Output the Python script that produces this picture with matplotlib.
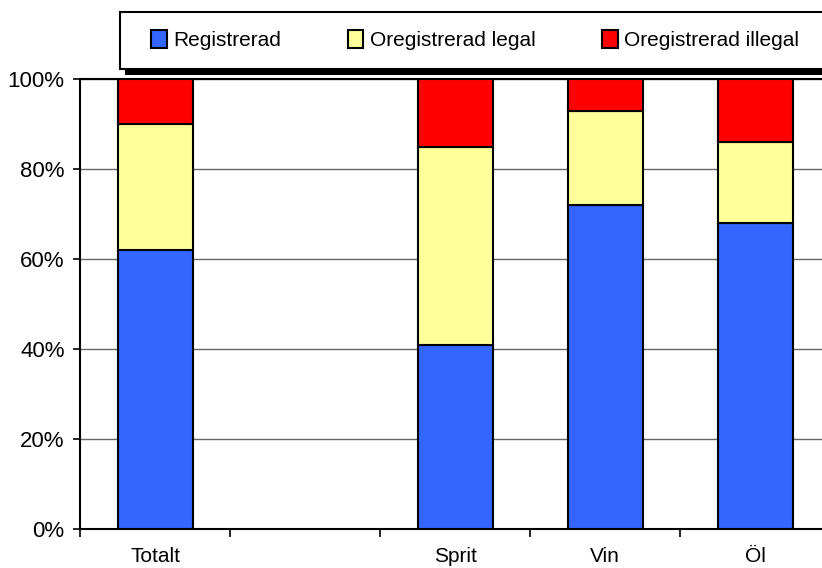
import numpy as np
import matplotlib.pyplot as plt
from matplotlib.patches import Rectangle

plt.rcParams['font.family'] = ['Liberation Sans', 'DejaVu Sans']

# andel av total alkoholkonsumtion (%), tom kategori nummer två
kategorier = ['Totalt', '', 'Sprit', 'Vin', 'Öl']
registrerad = [62, np.nan, 41, 72, 68]
oreg_legal = [28, np.nan, 44, 21, 18]
oreg_illegal = [10, np.nan, 15, 7, 14]
serier = ['Registrerad', 'Oregistrerad legal', 'Oregistrerad illegal']
farger = ['#3366FF', '#FFFF99', '#FF0000']

W, H = 822, 568
fig = plt.figure(figsize=(W / 100, H / 100), dpi=100)
ax = fig.add_axes([80 / W, 39 / H, 750 / W, 450 / H])

x = np.arange(len(kategorier))
botten = np.zeros(len(kategorier))
staplar = []
for varden, farg, namn in zip([registrerad, oreg_legal, oreg_illegal], farger, serier):
    varden = np.array(varden, dtype=float)
    b = ax.bar(x, varden, 0.5, bottom=botten, color=farg, edgecolor='black',
               linewidth=1.5, label=namn, zorder=3)
    staplar.append(b)
    botten += varden

ax.set_xlim(-0.5, len(kategorier) - 0.5)
ax.set_ylim(0, 100)
ax.set_yticks(np.arange(0, 101, 20))
ax.set_yticklabels(['{}%'.format(v) for v in range(0, 101, 20)])
ax.yaxis.grid(True, color='#666666', linewidth=1.0, zorder=0)
ax.tick_params(axis='y', direction='out', length=5, width=1.2, pad=6, labelsize=16)

# streck mellan kategorierna, etiketter i mitten
ax.set_xticks(np.arange(-0.5, len(kategorier), 1.0))
ax.set_xticklabels([])
ax.set_xticks(x, minor=True)
ax.set_xticklabels(kategorier, minor=True)
ax.tick_params(axis='x', which='major', direction='out', length=6, width=1.2)
ax.tick_params(axis='x', which='minor', length=0, pad=13, labelsize=15)

for s in ['left', 'bottom', 'top']:
    ax.spines[s].set_linewidth(1.5)
    ax.spines[s].set_color('black')
ax.spines['right'].set_visible(False)

# legendruta med svart skugga
fig.patches.append(Rectangle((125 / W, 1 - 75 / H), 710 / W, 57 / H,
                             transform=fig.transFigure, facecolor='black',
                             edgecolor='none', zorder=1))
fig.patches.append(Rectangle((120 / W, 1 - 69 / H), 715 / W, 57 / H,
                             transform=fig.transFigure, facecolor='white',
                             edgecolor='black', linewidth=1.5, zorder=2))

leg = fig.legend(handles=staplar, labels=serier, ncol=3, frameon=False,
                 loc='center left', bbox_to_anchor=(143 / W, 1 - 40 / H),
                 fontsize=15, handlelength=0.75, handleheight=1.0,
                 handletextpad=0.3, columnspacing=3.2, borderaxespad=0)
leg.set_zorder(5)

fig.savefig('out.png', dpi=100)
